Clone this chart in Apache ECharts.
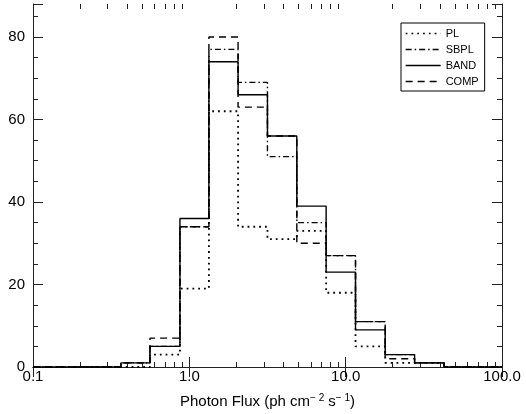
<!DOCTYPE html>
<html><head><meta charset="utf-8">
<script src="https://cdn.jsdelivr.net/npm/echarts@6/dist/echarts.min.js"></script>
<style>html,body{margin:0;padding:0;background:#fff}#c{width:526px;height:414px}</style>
</head><body><div id="c"></div>
<script>
// Histogram bin edges (photon flux) and counts per bin
const binEdges   = [0.1, 0.154, 0.237, 0.365, 0.56, 0.871, 1.334, 2.05, 3.16, 4.87, 7.5, 11.56, 17.9, 27.6, 42.6, 65.6, 100];
const plValues   = [0, 0, 0, 0, 3, 19, 62, 34, 31, 33, 18, 5, 1, 1, 0, 0];
const sbplValues = [0, 0, 0, 1, 5, 34, 77, 69, 51, 35, 27, 11, 3, 1, 0, 0];
const bandValues = [0, 0, 0, 1, 5, 36, 74, 66, 56, 39, 23, 9, 3, 1, 0, 0];
const compValues = [0, 0, 0, 1, 7, 34, 80, 63, 56, 30, 27, 11, 2, 1, 0, 0];
const seriesNames = ['PL', 'SBPL', 'BAND', 'COMP'];
const xTickLabels = ['0.1', '1.0', '10.0', '100.0'];
const xMinorTicks = [0.2,0.3,0.4,0.5,0.6,0.7,0.8,0.9, 2,3,4,5,6,7,8,9, 20,30,40,50,60,70,80,90];
const yTickLabels = ['0', '20', '40', '60', '80'];

const FONT = '"Liberation Sans", Arial, Helvetica, sans-serif';
const AX = '#222';

function stepData(vals) {
  const d = vals.map((v, i) => [binEdges[i], v]);
  d.push([binEdges[vals.length], vals[vals.length - 1]]);
  return d;
}

const styles = {
  PL:   { type: [1.8, 4], width: 1.8 },
  SBPL: { type: [6, 3, 1.5, 3], width: 1.4 },
  BAND: { type: 'solid', width: 1.4 },
  COMP: { type: [7, 5], width: 1.4 }
};
const valuesByName = { PL: plValues, SBPL: sbplValues, BAND: bandValues, COMP: compValues };

const logAxisBase = (pos, labels) => ({
  type: 'log', logBase: 10, gridIndex: 0, position: pos, min: 0.1, max: 100,
  axisLine: { show: true, lineStyle: { color: AX, width: 1 } },
  axisTick: { show: true, inside: true, length: 10, lineStyle: { color: AX, width: 1 } },
  splitLine: { show: false },
  axisLabel: labels ? {
    show: true, margin: 2, fontSize: 15, color: '#000', fontFamily: FONT,
    formatter: (v, i) => xTickLabels[i]
  } : { show: false }
});

const minorXAxis = (pos) => ({
  type: 'value', gridIndex: 1, position: pos, min: -1, max: 2,
  axisLine: { show: false },
  axisTick: { show: true, inside: true, length: 5, lineStyle: { color: AX, width: 1 },
              customValues: xMinorTicks.map(Math.log10) },
  axisLabel: { show: false }, splitLine: { show: false }
});

const yAxisBase = (pos, labels) => ({
  type: 'value', gridIndex: 0, position: pos, min: 0, max: 88, interval: 20,
  axisLine: { show: true, lineStyle: { color: AX, width: 1 } },
  axisTick: { show: true, inside: true, length: 10, lineStyle: { color: AX, width: 1 } },
  minorTick: { show: true, splitNumber: 4, length: 5, lineStyle: { color: AX, width: 1 } },
  splitLine: { show: false }, minorSplitLine: { show: false },
  axisLabel: labels ? {
    show: true, margin: 8, fontSize: 15, color: '#000', fontFamily: FONT, showMaxLabel: false,
    formatter: (v, i) => yTickLabels[i]
  } : { show: false }
});

const xMain = logAxisBase('bottom', true);
xMain.name = 'Photon Flux (ph cm{sup|\u2212 2} s{sup|\u2212 1})';
xMain.nameLocation = 'middle';
xMain.nameGap = 26;
xMain.nameTextStyle = {
  fontSize: 15, color: '#000', fontFamily: FONT,
  rich: { sup: { fontSize: 10, color: '#000', fontFamily: FONT, verticalAlign: 'top', padding: [0, 0, 7, 0] } }
};

const option = {
  animation: false,
  backgroundColor: '#fff',
  textStyle: { fontFamily: FONT },
  grid: [
    { left: 33, right: 24, top: 4, bottom: 47, containLabel: false },
    { left: 33, right: 24, top: 4, bottom: 47, containLabel: false }
  ],
  legend: {
    data: seriesNames, orient: 'vertical', left: 401, top: 23,
    itemWidth: 35, itemHeight: 10, itemGap: 5,
    borderColor: '#000', borderWidth: 1, borderRadius: 0, padding: [5, 6, 4, 4],
    textStyle: { fontSize: 11, color: '#000', fontFamily: FONT },
    itemStyle: { opacity: 0 },
    lineStyle: { width: 1.3 },
    backgroundColor: '#fff'
  },
  xAxis: [xMain, logAxisBase('top', false), minorXAxis('bottom'), minorXAxis('top')],
  yAxis: [yAxisBase('left', true), yAxisBase('right', false),
          { type: 'value', gridIndex: 1, min: 0, max: 1, show: false }],
  series: seriesNames.map(n => ({
    name: n, type: 'line', step: 'end', xAxisIndex: 0, yAxisIndex: 0,
    symbol: 'none', showSymbol: false,
    data: stepData(valuesByName[n]),
    itemStyle: { color: '#000' },
    lineStyle: { color: '#000', width: styles[n].width, type: styles[n].type }
  }))
};

const chart = echarts.init(document.getElementById('c'), null, { renderer: 'canvas' });
chart.setOption(option);
</script>
</body></html>
